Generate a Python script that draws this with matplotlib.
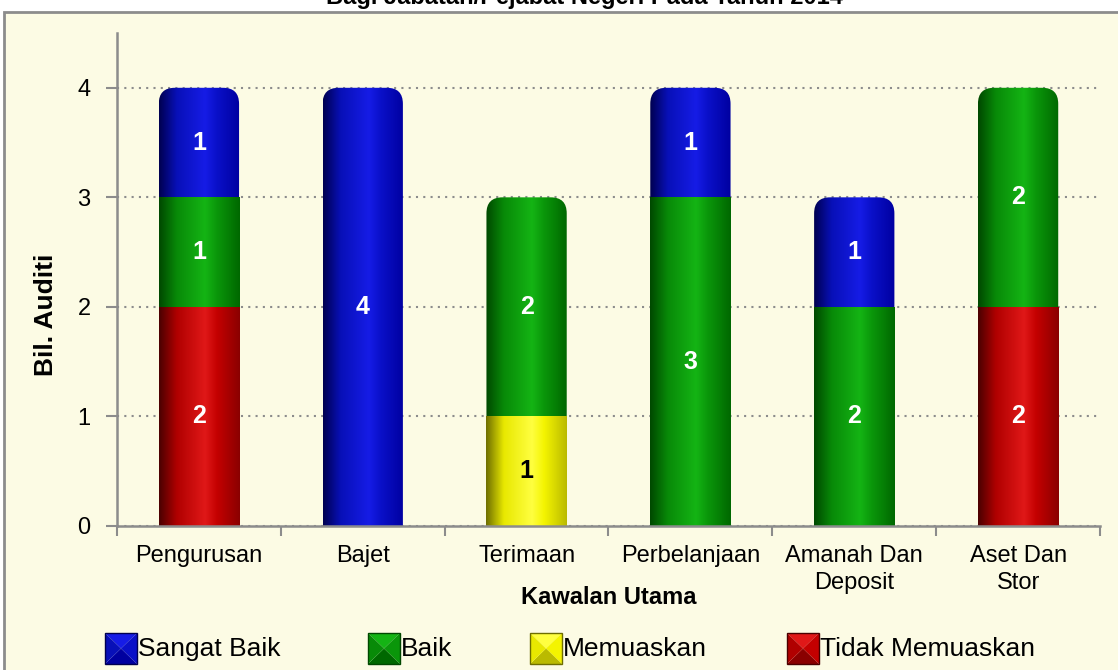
import numpy as np
import matplotlib
matplotlib.use("Agg")
import matplotlib.pyplot as plt
from matplotlib.colors import LinearSegmentedColormap
from matplotlib.patches import FancyBboxPatch, Rectangle, Polygon

# data
kategori = ["Pengurusan", "Bajet", "Terimaan", "Perbelanjaan", "Amanah Dan\nDeposit", "Aset Dan\nStor"]
tidak_memuaskan = [2, 0, 0, 0, 0, 2]
memuaskan = [0, 0, 1, 0, 0, 0]
baik = [1, 0, 2, 3, 2, 2]
sangat_baik = [1, 4, 0, 1, 1, 0]
siri = ["Tidak Memuaskan", "Memuaskan", "Baik", "Sangat Baik"]
nilai = [tidak_memuaskan, memuaskan, baik, sangat_baik]

# cylinder shades: left edge -> mid -> highlight -> mid -> right edge
stops = [0, 0.22, 0.57, 0.72, 1]
shades = {
    "Sangat Baik": ["#000050", "#0810B8", "#161CE6", "#0A10C8", "#0000A0"],
    "Baik": ["#004800", "#088A08", "#14B414", "#0A960A", "#006800"],
    "Memuaskan": ["#6E6E00", "#E8E800", "#FFFF40", "#F4F400", "#BABA00"],
    "Tidak Memuaskan": ["#4A0000", "#B00000", "#E01818", "#C40000", "#8A0000"],
}
label_warna = {"Sangat Baik": "white", "Baik": "white",
               "Memuaskan": "black", "Tidak Memuaskan": "white"}

plt.rcParams['font.family'] = ['Liberation Sans', 'DejaVu Sans']
fig = plt.figure(figsize=(11.18, 6.7), dpi=100, facecolor="white")
fig.patches.append(Rectangle((4/1118, -0.01), 1.0, 1 - 12/670 + 0.01, transform=fig.transFigure,
                             facecolor="#FCFBE4", edgecolor="#8C8C8C", lw=2, zorder=-5))
fig.text(0.523, 1 - 4/670, "Bagi Jabatan/Pejabat Negeri Pada Tahun 2014", ha="center",
         va="baseline", fontsize=17, fontweight="bold")

ax = fig.add_axes([117/1118, 1 - 526/670, (1100 - 117)/1118, (526 - 33)/670])
ax.set_facecolor("none")

x = np.arange(len(kategori))
w = 0.49
grad = np.linspace(0, 1, 256)[np.newaxis, :]
px_x = 164.0  # pixels per x unit
px_y = 109.5  # pixels per y unit
r = 16 / px_x
bottom = np.zeros(len(kategori))
top_total = np.sum(nilai, axis=0)

for name, vals in zip(siri, nilai):
    vals = np.array(vals, dtype=float)
    bars = ax.bar(x, vals, w, bottom=bottom, facecolor="none", edgecolor="none", zorder=2)
    cmap = LinearSegmentedColormap.from_list(name, list(zip(stops, shades[name])))
    for i, b in enumerate(bars):
        if vals[i] == 0:
            continue
        x0, y0, bw, bh = b.get_x(), b.get_y(), b.get_width(), b.get_height()
        im = ax.imshow(grad, extent=(x0, x0 + bw, y0, y0 + bh), aspect="auto",
                       cmap=cmap, zorder=2, interpolation="bilinear")
        if y0 + bh >= top_total[i]:
            clip = FancyBboxPatch((x0, y0 - 0.5), bw, bh + 0.5,
                                  boxstyle=f"round,pad=0,rounding_size={r}",
                                  mutation_aspect=px_x / px_y, transform=ax.transData,
                                  facecolor="none", edgecolor="none")
            ax.add_patch(clip)
            im.set_clip_path(clip)
        else:
            im.set_clip_path(b)
        ax.text(x[i], y0 + bh / 2, f"{int(vals[i])}", ha="center", va="center",
                color=label_warna[name], fontsize=18, fontweight="bold", zorder=3)
    bottom += vals

ax.set_xlim(-0.5, len(kategori) - 0.5)
ax.set_ylim(0, 4.5)
ax.set_yticks([0, 1, 2, 3, 4])
ax.set_xticks(x)
ax.set_xticklabels(kategori, fontsize=17, linespacing=1.25)
ax.set_xticks(np.arange(-0.5, len(kategori)), minor=True)
ax.tick_params(axis="x", which="major", length=0, pad=14)
ax.tick_params(axis="x", which="minor", length=7, color="#8C8C8C", width=1.5)
ax.tick_params(axis="y", length=8, color="#8C8C8C", width=1.5, labelsize=17, pad=11)
for s in ["top", "right"]:
    ax.spines[s].set_visible(False)
for s in ["left", "bottom"]:
    ax.spines[s].set_color("#8C8C8C")
    ax.spines[s].set_linewidth(1.8)
ax.set_axisbelow(True)
ax.yaxis.grid(True, linestyle=(0, (1, 2.5)), color="#8C8C8C", lw=1.5)

ax.set_xlabel("Kawalan Utama", fontsize=17, fontweight="bold")
ax.xaxis.set_label_coords((609 - 117) / 983, -(586 - 526) / 493)
ax.set_ylabel("Bil. Auditi", fontsize=19, fontweight="bold")
ax.yaxis.set_label_coords(-(117 - 58) / 983, 1 - (315 - 33) / 493)

# legend along the bottom (pyramid-shaded squares)
leg_x = [105, 368, 530, 787]
leg_names = ["Sangat Baik", "Baik", "Memuaskan", "Tidak Memuaskan"]
sz_w, sz_h = 32, 31
y_top = 633
for lx, name in zip(leg_x, leg_names):
    def fp(px, py):
        return (px / 1118, 1 - py / 670)
    x0, x1, y0, y1 = lx, lx + sz_w, y_top, y_top + sz_h
    cx, cy = (x0 + x1) / 2, (y0 + y1) / 2
    sc = shades[name]
    tris = [([fp(x0, y0), fp(x1, y0), fp(cx, cy)], sc[2]),
            ([fp(x1, y0), fp(x1, y1), fp(cx, cy)], sc[3]),
            ([fp(x0, y1), fp(x1, y1), fp(cx, cy)], sc[4]),
            ([fp(x0, y0), fp(x0, y1), fp(cx, cy)], sc[1])]
    for pts, c in tris:
        fig.patches.append(Polygon(pts, closed=True, transform=fig.transFigure,
                                   facecolor=c, edgecolor="none", zorder=3))
    fig.patches.append(Rectangle(fp(x0, y1), sz_w / 1118, sz_h / 670, transform=fig.transFigure,
                                 facecolor="none", edgecolor=sc[0], lw=1, zorder=4))
    fig.text((lx + 33) / 1118, 1 - 649 / 670, name, ha="left", va="center", fontsize=19)

fig.savefig("out.png", dpi=100, facecolor="white")
